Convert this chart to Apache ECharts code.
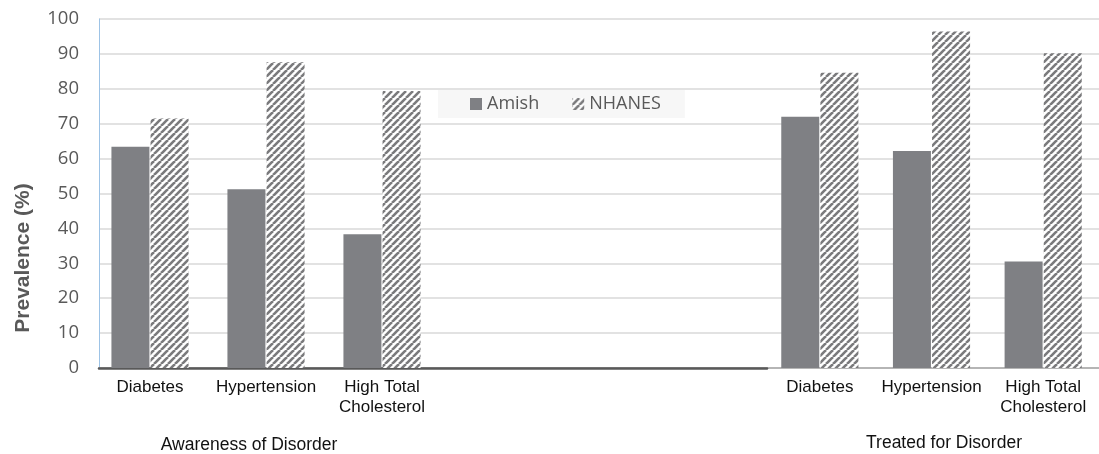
<!DOCTYPE html>
<html>
<head>
<meta charset="utf-8">
<script src="https://cdn.jsdelivr.net/npm/echarts@6/dist/echarts.min.js"></script>
<style>
html,body{margin:0;padding:0;background:#fff;}
#chart{width:1099px;height:454px;}
</style>
</head>
<body>
<div id="chart"></div>
<script>
// ---- data ----
const categories = ['Diabetes', 'Hypertension', 'High Total\nCholesterol'];
const groupTitles = ['Awareness of Disorder', 'Treated for Disorder'];
const seriesNames = ['Amish', 'NHANES'];
const awarenessAmish = [63.4, 51.2, 38.3];
const awarenessNhanes = [71.5, 87.6, 79.4];
const treatedAmish = [72.0, 62.2, 30.5];
const treatedNhanes = [84.6, 96.4, 90.2];
const yTicks = { min: 0, max: 100, interval: 10 };

// ---- hatch pattern ----
function makeHatch() {
  const s = 7;
  const c = document.createElement('canvas');
  c.width = s; c.height = s;
  const ctx = c.getContext('2d');
  ctx.fillStyle = '#ffffff';
  ctx.fillRect(0, 0, s, s);
  ctx.strokeStyle = '#7a7a7c';
  ctx.lineWidth = 2.6;
  for (let k = -1; k <= 1; k++) {
    ctx.beginPath();
    ctx.moveTo(k * s, s);
    ctx.lineTo(k * s + s, 0);
    ctx.stroke();
  }
  return c;
}
const hatch = { image: makeHatch(), repeat: 'repeat' };
const amishColor = '#7f8084';

const chart = echarts.init(document.getElementById('chart'), null, { renderer: 'canvas' });

const gTop = 19, gHeight = 349;
const hiddenY = (gi) => ({ type: 'value', gridIndex: gi, min: yTicks.min, max: yTicks.max, interval: yTicks.interval, show: false });
const catLabel = { margin: 9, fontFamily: 'Liberation Sans', fontSize: 17, color: '#111', lineHeight: 20, interval: 0 };

chart.setOption({
  animation: false,
  backgroundColor: '#ffffff',
  legend: {
    data: seriesNames,
    left: 438, top: 90,
    padding: [5, 24, 5, 32],
    backgroundColor: '#f7f7f7',
    itemWidth: 12, itemHeight: 12, itemGap: 33,
    icon: 'rect',
    textStyle: { fontFamily: 'Open Sans', fontSize: 18, color: '#595959' }
  },
  grid: [
    { left: 99, right: 0, top: gTop, height: gHeight },
    { left: 99, width: 668, top: gTop, height: gHeight },
    { left: 92, width: 348, top: gTop, height: gHeight },
    { left: 764, width: 344, top: gTop, height: gHeight }
  ],
  xAxis: [
    { type: 'value', gridIndex: 0, min: 0, max: 1,
      axisLine: { show: true, onZero: false, lineStyle: { color: '#a6a6a6', width: 1.5 } },
      axisTick: { show: false }, axisLabel: { show: false }, splitLine: { show: false } },
    { type: 'value', gridIndex: 1, min: 0, max: 1,
      axisLine: { show: true, onZero: false, lineStyle: { color: '#595959', width: 2.5 } },
      axisTick: { show: false }, axisLabel: { show: false }, splitLine: { show: false } },
    { type: 'category', gridIndex: 2, data: categories,
      axisLine: { show: false }, axisTick: { show: false }, axisLabel: catLabel },
    { type: 'category', gridIndex: 3, data: categories,
      axisLine: { show: false }, axisTick: { show: false }, axisLabel: catLabel }
  ],
  yAxis: [
    { type: 'value', gridIndex: 0, min: yTicks.min, max: yTicks.max, interval: yTicks.interval,
      axisLine: { show: true, lineStyle: { color: '#9dc3e6', width: 1 } },
      axisTick: { show: false },
      axisLabel: { margin: 20, fontFamily: 'Open Sans', fontSize: 18.5, color: '#595959' },
      splitLine: { show: true, lineStyle: { color: '#d9d9d9', width: 1.5 } } },
    hiddenY(1), hiddenY(2), hiddenY(3)
  ],
  series: [
    { name: seriesNames[0], type: 'bar', xAxisIndex: 2, yAxisIndex: 2, data: awarenessAmish,
      barWidth: 38, barGap: '3%', itemStyle: { color: amishColor } },
    { name: seriesNames[1], type: 'bar', xAxisIndex: 2, yAxisIndex: 2, data: awarenessNhanes,
      barWidth: 38, barGap: '3%', itemStyle: { color: hatch } },
    { name: seriesNames[0], type: 'bar', xAxisIndex: 3, yAxisIndex: 3, data: treatedAmish,
      barWidth: 38, barGap: '3%', itemStyle: { color: amishColor } },
    { name: seriesNames[1], type: 'bar', xAxisIndex: 3, yAxisIndex: 3, data: treatedNhanes,
      barWidth: 38, barGap: '3%', itemStyle: { color: hatch } }
  ],
  graphic: [
    { type: 'text', x: 23, y: 258, rotation: Math.PI / 2,
      style: { text: 'Prevalence (%)', fontFamily: 'Liberation Sans', fontWeight: 'bold', fontSize: 21,
               fill: '#595959', align: 'center', verticalAlign: 'middle' } },
    { type: 'text', x: 249, y: 445,
      style: { text: groupTitles[0], fontFamily: 'Liberation Sans', fontSize: 17.5, fill: '#111',
               align: 'center', verticalAlign: 'middle' } },
    { type: 'text', x: 944, y: 443,
      style: { text: groupTitles[1], fontFamily: 'Liberation Sans', fontSize: 17.5, fill: '#111',
               align: 'center', verticalAlign: 'middle' } }
  ]
});
</script>
</body>
</html>
